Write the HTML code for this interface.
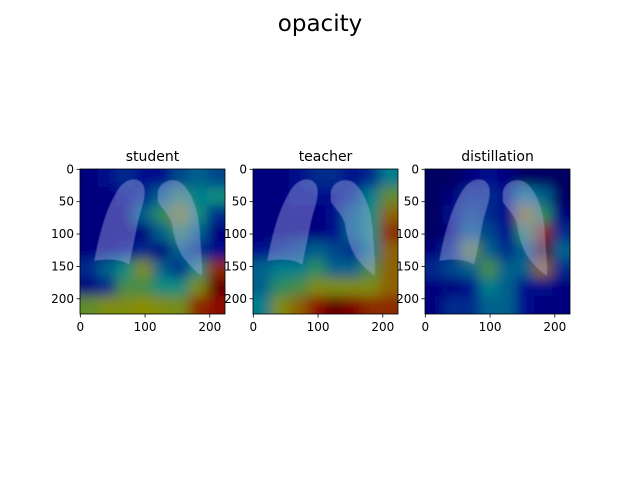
<!DOCTYPE html>
<html><head><meta charset="utf-8">
<style>
html,body{margin:0;padding:0;background:#fff;}
svg{display:block;font-family:"DejaVu Sans","Liberation Sans",sans-serif;}
</style></head>
<body>
<svg id="fig" width="640" height="480" viewBox="0 0 640 480" xmlns="http://www.w3.org/2000/svg">
<defs>
<filter id="blur" x="-20%" y="-20%" width="140%" height="140%"><feGaussianBlur stdDeviation="6"/></filter>
<filter id="soft"><feGaussianBlur stdDeviation="1"/></filter>
</defs>
<text x="320" y="31" text-anchor="middle" font-size="23" fill="#000">opacity</text>
</svg>
<script>
const panelTitles = ["student","teacher","distillation"];
const xTicks = [0,100,200];
const yTicks = [0,50,100,150,200];
const studentGrid = [
[.1,.15,.2,.15,.15,.25,.3,.25],
[.1,.1,.15,.2,.3,.45,.35,.4],
[.1,.1,.1,.3,.45,.6,.4,.2],
[.1,.1,.1,.1,.3,.45,.3,.1],
[.1,.1,.15,.2,.1,.3,.2,.15],
[.2,.3,.4,.6,.3,.2,.4,.8],
[.1,.2,.5,.5,.4,.4,.6,.95],
[.55,.6,.6,.62,.6,.58,.8,.85]];
const teacherGrid = [
[.1,.1,.15,.2,.2,.15,.2,.35],
[.1,.1,.15,.15,.15,.2,.35,.55],
[.1,.1,.1,.1,.15,.3,.4,.7],
[.1,.1,.1,.1,.15,.3,.4,.8],
[.15,.2,.25,.3,.25,.2,.35,.7],
[.3,.35,.35,.45,.3,.3,.5,.7],
[.3,.45,.5,.6,.6,.6,.6,.7],
[.35,.6,.7,.85,.95,.9,.8,.8]];
const distillGrid = [
[.05,.05,.1,.15,.1,.05,.05,.05],
[.05,.1,.2,.2,.15,.35,.3,.05],
[.05,.15,.25,.2,.15,.65,.45,.1],
[.05,.1,.3,.25,.15,.45,.8,.2],
[.1,.2,.55,.3,.2,.3,1,.3],
[.2,.25,.3,.5,.3,.3,.7,.2],
[.1,.1,.15,.35,.3,.15,.15,.1],
[.1,.2,.2,.3,.3,.15,.1,.1]];
const grids = [studentGrid, teacherGrid, distillGrid];

const NS="http://www.w3.org/2000/svg";
const svg=document.getElementById('fig');
const lefts=[80,253,425], top0=169, size=145, imgN=224;
function jet(v){
  v=Math.max(0,Math.min(1,v));
  const r=Math.max(0,Math.min(1,1.5-Math.abs(4*v-3)));
  const g=Math.max(0,Math.min(1,1.5-Math.abs(4*v-2)));
  const b=Math.max(0,Math.min(1,1.5-Math.abs(4*v-1)));
  const k=0.55;
  return `rgb(${Math.round(r*255*k)},${Math.round(g*255*k)},${Math.round(b*255*k)})`;
}
function mk(tag,attrs,parent){const e=document.createElementNS(NS,tag);for(const k in attrs)e.setAttribute(k,attrs[k]);(parent||svg).appendChild(e);return e;}
const leftLung="M22,142 C30,100 40,60 60,30 C70,15 90,10 98,25 C104,40 95,60 90,80 C85,105 80,130 76,148 C65,140 45,138 22,142 Z";
const rightLung="M120,35 C125,15 150,12 160,25 C175,40 185,70 186,110 C188,140 190,155 188,165 C180,160 170,150 162,140 C150,125 145,105 142,85 C138,70 125,60 120,50 Z";

panelTitles.forEach((t,p)=>{
  const x0=lefts[p];
  const sx=v=>x0+(v+0.5)*size/imgN;
  const sy=v=>top0+(v+0.5)*size/imgN;
  const g=mk('g',{});
  
  
  const cp=mk('clipPath',{id:'clip'+p},svg.querySelector('defs'));
  mk('rect',{x:x0,y:top0,width:size,height:size},cp);
  const inner=mk('g',{'clip-path':`url(#clip${p})`},g);
  mk('rect',{x:x0,y:top0,width:size,height:size,fill:jet(0.05)},inner);
  const hm=mk('g',{filter:'url(#blur)'},inner);
  const grid=grids[p], n=grid.length, cw=size/n;
  grid.forEach((row,r)=>row.forEach((v,c)=>{
    const cell=mk('rect',{x:x0+c*cw-(c==0?20:0),y:top0+r*cw-(r==0?20:0),width:cw+1+(c==0||c==n-1?20:0),height:cw+1+(r==0||r==n-1?20:0),fill:jet(v)},hm);
    
    
  }));
  const lg=mk('g',{transform:`translate(${x0},${top0}) scale(${size/imgN})`,filter:'url(#soft)'},inner);
  [leftLung,rightLung].forEach((d,i)=>{
    const l=mk('path',{d:d,fill:'#b4b4f0','fill-opacity':0.4},lg);
    
    
  });
  const fr=mk('rect',{x:x0,y:top0,width:size,height:size,fill:'none',stroke:'#000','stroke-width':0.8},g);
  
  
  const tt=mk('text',{x:x0+size/2,y:top0-8,'text-anchor':'middle','font-size':14},g);
  tt.textContent=t;
  
  
  xTicks.forEach(v=>{
    const X=sx(v);
    mk('line',{x1:X,x2:X,y1:top0+size,y2:top0+size+3.5,stroke:'#000','stroke-width':0.8},g);
    const l=mk('text',{x:X,y:top0+size+17,'text-anchor':'middle','font-size':12},g);
    l.textContent=v;
    
    
  });
  yTicks.forEach(v=>{
    const Y=sy(v);
    mk('line',{x1:x0,x2:x0-3.5,y1:Y,y2:Y,stroke:'#000','stroke-width':0.8},g);
    const l=mk('text',{x:x0-6,y:Y+4,'text-anchor':'end','font-size':12},g);
    l.textContent=v;
    
    
  });
});
</script>
</body></html>
